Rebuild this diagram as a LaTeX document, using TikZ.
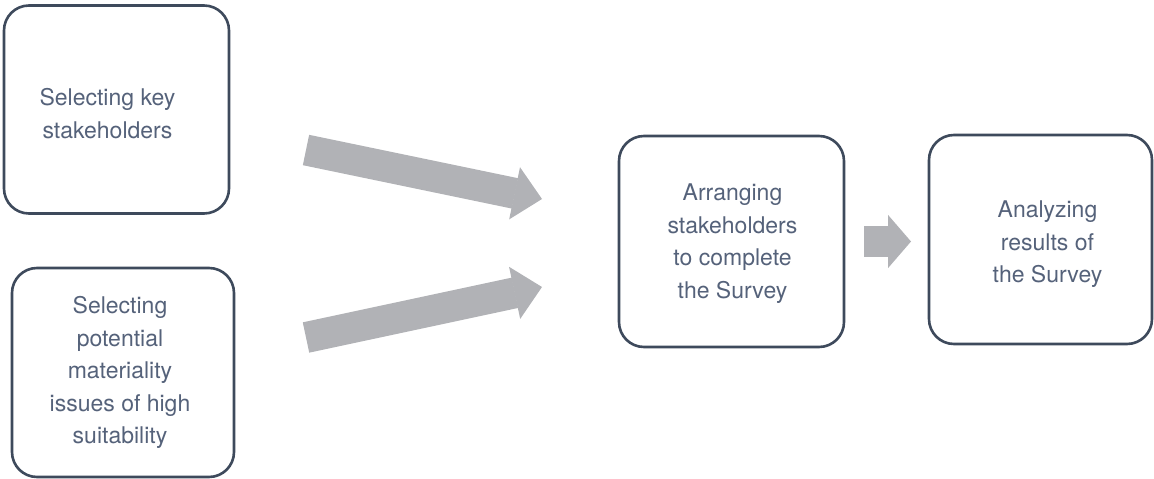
\documentclass[tikz,border=0pt]{standalone}
\usepackage{fontspec}
\setmainfont{TeX Gyre Heros}
\usetikzlibrary{arrows.meta}
\definecolor{boxline}{HTML}{3E4A5C}
\definecolor{boxtext}{HTML}{55627A}
\definecolor{arrowgray}{HTML}{B1B2B6}
\begin{document}
\begin{tikzpicture}[x=1pt,y=-1pt,
  stepbox/.style={draw=boxline, line width=2.6pt, rounded corners=25pt,
    inner sep=0pt, fill=white},
  steptext/.style={align=center, text=boxtext, inner sep=0pt,
    font=\fontsize{23}{32.5}\selectfont},
  blockarrow/.style={draw=arrowgray, line width=31pt,
    -{Triangle[length=#1,width=53pt,line width=1.5pt]}},
  blockarrow/.default=28pt]
  \useasboundingbox (0,0) rectangle (1154,479);

  % process steps
  \node[stepbox, minimum width=225pt, minimum height=208pt] (b1) at (116.5,109.5) {};
  \node[stepbox, minimum width=222pt, minimum height=209pt] (b2) at (123,372.5) {};
  \node[stepbox, minimum width=225pt, minimum height=211pt] (b3) at (731.5,241.5) {};
  \node[stepbox, minimum width=223pt, minimum height=209pt] (b4) at (1040.5,239.5) {};

  \node[steptext] (t1) at ([shift={(-9,4)}]b1.center) {Selecting key\\stakeholders};
  \node[steptext] (t2) at ([shift={(-3,0)}]b2.center) {Selecting\\potential\\materiality\\issues of high\\suitability};
  \node[steptext] (t3) at ([shift={(1,2)}]b3.center) {Arranging\\stakeholders\\to complete\\the Survey};
  \node[steptext] (t4) at ([shift={(7,5)}]b4.center) {Analyzing\\results of\\the Survey};

  % block arrows between the steps
  \coordinate (a1s) at (306,150);
  \coordinate (a1e) at (542,199);
  \coordinate (a2s) at (306,337.5);
  \coordinate (a2e) at (542,287);
  \coordinate (a3s) at (864,241.5);
  \coordinate (a3e) at (911,241.5);
  \draw[blockarrow] (a1s) -- (a1e);
  \draw[blockarrow] (a2s) -- (a2e);
  \draw[blockarrow=23pt] (a3s) -- (a3e);
\end{tikzpicture}
\end{document}
